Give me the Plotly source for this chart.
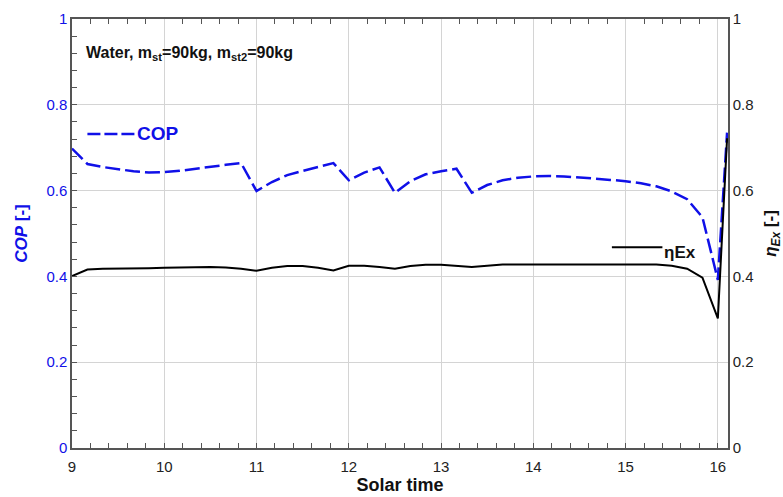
import plotly.graph_objects as go

time = [9.0, 9.167, 9.333, 9.5, 9.667, 9.833, 10.0, 10.167, 10.333, 10.5, 10.667, 10.833,
        11.0, 11.167, 11.333, 11.5, 11.667, 11.833, 12.0, 12.167, 12.333, 12.5, 12.667, 12.833,
        13.0, 13.167, 13.333, 13.5, 13.667, 13.833, 14.0, 14.167, 14.333, 14.5, 14.667, 14.833,
        15.0, 15.167, 15.333, 15.5, 15.667, 15.833, 16.0, 16.1]
cop = [0.698, 0.662, 0.655, 0.650, 0.645, 0.642, 0.643, 0.646, 0.651, 0.655, 0.660, 0.664,
       0.599, 0.620, 0.636, 0.646, 0.655, 0.664, 0.624, 0.642, 0.654, 0.595, 0.622, 0.638,
       0.645, 0.651, 0.595, 0.613, 0.624, 0.630, 0.633, 0.634, 0.633, 0.631, 0.628, 0.625,
       0.622, 0.617, 0.610, 0.598, 0.580, 0.538, 0.392, 0.735]
eta_ex = [0.401, 0.416, 0.418, 0.418, 0.419, 0.419, 0.420, 0.421, 0.422, 0.422, 0.421, 0.418,
          0.413, 0.420, 0.424, 0.424, 0.420, 0.414, 0.425, 0.425, 0.422, 0.418, 0.424, 0.427,
          0.427, 0.424, 0.422, 0.425, 0.428, 0.428, 0.428, 0.429, 0.429, 0.429, 0.429, 0.429,
          0.429, 0.429, 0.428, 0.425, 0.418, 0.397, 0.302, 0.722]

x_ticks = [9, 10, 11, 12, 13, 14, 15, 16]
y_ticks = [0, 0.2, 0.4, 0.6, 0.8, 1]
y_labels = ["0", "0.2", "0.4", "0.6", "0.8", "1"]

BLUE = "#1010e8"
FONT = "Liberation Sans, Arial, sans-serif"
X_RANGE = [9, 16.11]

fig = go.Figure()
fig.add_trace(go.Scatter(x=time, y=cop, mode="lines", name="COP",
                         line=dict(color=BLUE, width=2.5, dash="15px,5px")))
fig.add_trace(go.Scatter(x=time, y=eta_ex, mode="lines", name="ηEx", yaxis="y2",
                         line=dict(color="black", width=2)))
# invisible helper trace so the top (mirrored) axis with minor ticks is drawn
fig.add_trace(go.Scatter(x=time, y=eta_ex, mode="lines", xaxis="x2", yaxis="y2",
                         line=dict(color="rgba(0,0,0,0)", width=0), hoverinfo="skip",
                         showlegend=False))

fig.update_layout(
    width=783, height=497,
    margin=dict(l=72, r=55, t=19, b=49, autoexpand=False),
    paper_bgcolor="white", plot_bgcolor="white",
    showlegend=False,
    font=dict(family=FONT, size=14, color="#222"),
    xaxis=dict(range=X_RANGE, tickvals=x_ticks, ticktext=[str(v) for v in x_ticks],
               showgrid=True, gridcolor="#d4d4d4", gridwidth=1, automargin=False,
               showline=True, linecolor="#555", linewidth=1.5, mirror=True,
               ticks="inside", ticklen=0, tickcolor="#555", ticklabelstandoff=4,
               minor=dict(dtick=0.2, tick0=9, ticks="inside", ticklen=5, tickcolor="#555", showgrid=False),
               tickfont=dict(size=15, color="#222"),
               title=dict(text="<b>Solar time</b>", font=dict(size=18, color="#111"), standoff=4),
               zeroline=False),
    xaxis2=dict(range=X_RANGE, overlaying="x", side="top", showgrid=False, showline=False,
                showticklabels=False, ticks="", zeroline=False, automargin=False,
                minor=dict(dtick=0.2, tick0=9, ticks="inside", ticklen=5, tickcolor="#555", showgrid=False)),
    yaxis=dict(range=[0, 1], tickvals=y_ticks, ticktext=y_labels, automargin=False,
               showgrid=True, gridcolor="#d4d4d4", gridwidth=1,
               showline=True, linecolor="#555", linewidth=1.5,
               ticks="inside", ticklen=0, tickcolor="#555",
               minor=dict(dtick=0.04, tick0=0, ticks="inside", ticklen=5, tickcolor="#555", showgrid=False),
               tickfont=dict(size=15, color=BLUE),
               title=dict(text="<b><i>COP</i> [-]</b>", font=dict(size=17, color=BLUE), standoff=14),
               zeroline=False),
    yaxis2=dict(range=[0, 1], tickvals=y_ticks, ticktext=y_labels, overlaying="y", side="right",
                showgrid=False, showline=True, linecolor="#555", linewidth=1.5, automargin=False,
                ticks="", tickfont=dict(size=15, color="#222"),
                title=dict(text="<b><i>η<sub>Ex</sub></i> [-]</b>", font=dict(size=17, color="#111"), standoff=12),
                zeroline=False),
)

fig.add_shape(type="line", xref="paper", yref="paper", x0=0.0235, x1=0.097, y0=0.732, y1=0.732,
              line=dict(color=BLUE, width=2.5, dash="13px,4px"))
fig.add_annotation(xref="paper", yref="paper", x=0.096, y=0.732, xanchor="left", yanchor="middle",
                   text="<b>COP</b>", showarrow=False, font=dict(size=19, color=BLUE))
fig.add_shape(type="line", xref="paper", yref="paper", x0=0.823, x1=0.9, y0=0.468, y1=0.468,
              line=dict(color="black", width=2))
fig.add_annotation(xref="paper", yref="paper", x=0.899, y=0.455, xanchor="left", yanchor="middle",
                   text="<b>ηEx</b>", showarrow=False, font=dict(size=17, color="#111"))
fig.add_annotation(xref="paper", yref="paper", x=0.018, y=0.919, xanchor="left", yanchor="middle",
                   text="<b>Water, m<sub>st</sub>=90kg, m<sub>st2</sub>=90kg</b>", showarrow=False,
                   font=dict(size=16, color="#111"))

fig.write_html("out.html")
